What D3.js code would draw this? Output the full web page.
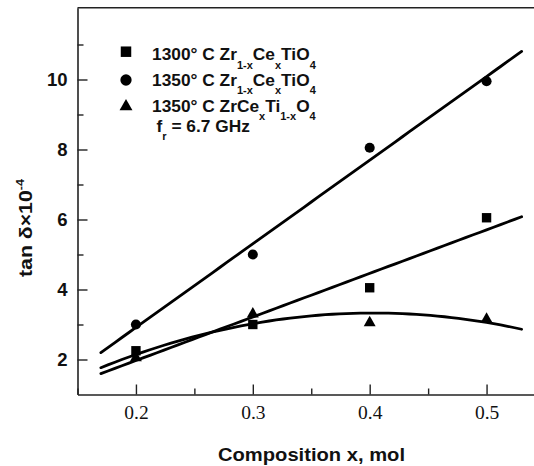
<!DOCTYPE html>
<html>
<head>
<meta charset="utf-8">
<script src="https://cdn.jsdelivr.net/npm/d3@7"></script>
<style>
    body { margin: 0; background: #fff; }
    svg { display: block; }
</style>
</head>
<body>
<svg id="canvas" width="534" height="466"></svg>
<script>
// values
const compositions = [0.2, 0.3, 0.4, 0.5];
const loss1300Zr = [2.25, 3.0, 4.05, 6.05];    // squares
const loss1350Zr = [3.0, 5.0, 8.05, 9.95];     // circles
const loss1350Ti = [2.05, 3.3, 3.05, 3.15];    // triangles
const fitRange = [0.17, 0.53];

const xMajor = [0.2, 0.3, 0.4, 0.5];
const xMinor = [0.15, 0.25, 0.35, 0.45];
const yMajor = [2, 4, 6, 8, 10];
const yMinor = [3, 5, 7, 9, 11];

const legendRows = [
    [["1300° C Zr", 0], ["1-x", 1], ["Ce", 0], ["x", 1], ["TiO", 0], ["4", 1]],
    [["1350° C Zr", 0], ["1-x", 1], ["Ce", 0], ["x", 1], ["TiO", 0], ["4", 1]],
    [["1350° C ZrCe", 0], ["x", 1], ["Ti", 0], ["1-x", 1], ["O", 0], ["4", 1]]
];
const freqLabel = [["f", 0], ["r", 1], [" = 6.7 GHz", 0]];

const series = [
    {values: loss1300Zr, symbol: d3.symbolSquare, size: 88, legendSize: 110, degree: 1},
    {values: loss1350Zr, symbol: d3.symbolCircle, size: 80, legendSize: 100, degree: 1},
    {values: loss1350Ti, symbol: d3.symbolTriangle, size: 62, legendSize: 72, degree: 2}
];

const SANS = "'Liberation Sans', Arial, sans-serif";
const SERIF = "'Liberation Serif', 'Times New Roman', serif";

// least squares polynomial fit, solved with plain gauss elimination
function polyfit(xs, ys, degree) {
    const n = degree + 1;
    const m = [];
    for (let r = 0; r < n; r++) {
        const row = [];
        for (let c = 0; c < n; c++) row.push(d3.sum(xs, x => Math.pow(x, r + c)));
        row.push(d3.sum(xs, (x, i) => Math.pow(x, r) * ys[i]));
        m.push(row);
    }
    for (let i = 0; i < n; i++) {
        for (let k = i + 1; k < n; k++) {
            const f = m[k][i] / m[i][i];
            for (let j = i; j <= n; j++) m[k][j] -= f * m[i][j];
        }
    }
    const coef = new Array(n).fill(0);
    for (let i = n - 1; i >= 0; i--) {
        let s = m[i][n];
        for (let j = i + 1; j < n; j++) s -= m[i][j] * coef[j];
        coef[i] = s / m[i][i];
    }
    return x => coef.reduce((acc, c, p) => acc + c * Math.pow(x, p), 0);
}

const svg = d3.select('#canvas');

const x = d3.scaleLinear().domain([0.15, 0.55]).range([77.5, 545]);
const y = d3.scaleLinear().domain([1, 12.05]).range([394.5, 7.75]);

// frame: top line (no right border in the picture)
svg.append('line')
    .attr('x1', x(0.15)).attr('x2', x(0.55))
    .attr('y1', y(12.05)).attr('y2', y(12.05))
    .attr('stroke', '#222').attr('stroke-width', 1.6);

// y axis
const yAxis = svg.append('g')
    .attr('transform', `translate(${x(0.15)},0)`)
    .call(d3.axisLeft(y).tickValues(yMajor).tickSize(-10).tickSizeOuter(0).tickPadding(10));
svg.append('g')
    .attr('transform', `translate(${x(0.15)},0)`)
    .call(d3.axisLeft(y).tickValues(yMinor).tickSize(-6).tickFormat(''))
    .select('.domain').remove();

// x axis
const xAxis = svg.append('g')
    .attr('transform', `translate(0,${y(1)})`)
    .call(d3.axisBottom(x).tickValues(xMajor).tickSize(-10).tickSizeOuter(0).tickPadding(11)
        .tickFormat(d3.format('.1f')));
svg.append('g')
    .attr('transform', `translate(0,${y(1)})`)
    .call(d3.axisBottom(x).tickValues(xMinor).tickSize(-6).tickFormat(''))
    .select('.domain').remove();

svg.selectAll('.domain').attr('stroke', '#222').attr('stroke-width', 1.6);
svg.selectAll('.tick line').attr('stroke', '#222').attr('stroke-width', 1.4);

yAxis.selectAll('text')
    .attr('fill', '#111')
    .style('font-family', SANS).style('font-weight', 'bold').style('font-size', '18.5px');
xAxis.selectAll('text')
    .attr('fill', '#111')
    .style('font-family', SERIF).style('font-size', '19.5px');

// fitted lines
const fitXs = d3.range(0, 61).map(i => fitRange[0] + (fitRange[1] - fitRange[0]) * i / 60);
const lineGen = d3.line().x(d => x(d[0])).y(d => y(d[1]));

series.forEach(s => {
    const f = polyfit(compositions, s.values, s.degree);
    svg.append('path')
        .attr('d', lineGen(fitXs.map(v => [v, f(v)])))
        .attr('fill', 'none')
        .attr('stroke', '#000')
        .attr('stroke-width', 2.8)
        .attr('stroke-linecap', 'round');
});

// markers
series.forEach(s => {
    svg.append('g').selectAll('path')
        .data(compositions)
        .join('path')
        .attr('d', d3.symbol().type(s.symbol).size(s.size))
        .attr('transform', (d, i) => `translate(${x(d)},${y(s.values[i])})`)
        .attr('fill', '#000');
});

// legend
const legend = svg.append('g')
    .style('font-family', SANS).style('font-weight', 'bold').style('font-size', '16.5px');

const legendY = [60, 85.7, 111.7];
const markerY = [51.7, 80, 106.5];

function writeRich(sel, parts) {
    let sub = false;
    parts.forEach(([t, isSub]) => {
        const ts = sel.append('tspan').text(t);
        if (isSub && !sub) ts.attr('dy', 8.5).style('font-size', '10.5px');
        else if (isSub) ts.style('font-size', '10.5px');
        else if (!isSub && sub) ts.attr('dy', -8.5);
        sub = !!isSub;
    });
}

series.forEach((s, i) => {
    legend.append('path')
        .attr('d', d3.symbol().type(s.symbol).size(s.legendSize))
        .attr('transform', `translate(126,${markerY[i]})`)
        .attr('fill', '#000');
    const t = legend.append('text')
        .attr('transform', `translate(152,${legendY[i]}) scale(1.05,1)`)
        .attr('fill', '#111');
    writeRich(t, legendRows[i]);
});
writeRich(legend.append('text')
    .attr('transform', 'translate(156.5,131.7) scale(1.05,1)')
    .attr('fill', '#111'), freqLabel);

// axis titles
svg.append('text')
    .attr('x', 311.5).attr('y', 460.5)
    .attr('text-anchor', 'middle')
    .attr('textLength', 187).attr('lengthAdjust', 'spacingAndGlyphs')
    .attr('fill', '#111')
    .style('font-family', SANS).style('font-weight', 'bold').style('font-size', '19px')
    .text('Composition x, mol');

const yTitle = svg.append('text')
    .attr('transform', 'translate(31.5,228) rotate(-90) scale(1.15,1)')
    .attr('text-anchor', 'middle')
    .attr('fill', '#111')
    .style('font-family', SANS).style('font-weight', 'bold').style('font-size', '18.5px');
yTitle.append('tspan').text('tan δ×10');
yTitle.append('tspan').attr('dy', -8).style('font-size', '11px').text('-4');
</script>
</body>
</html>
